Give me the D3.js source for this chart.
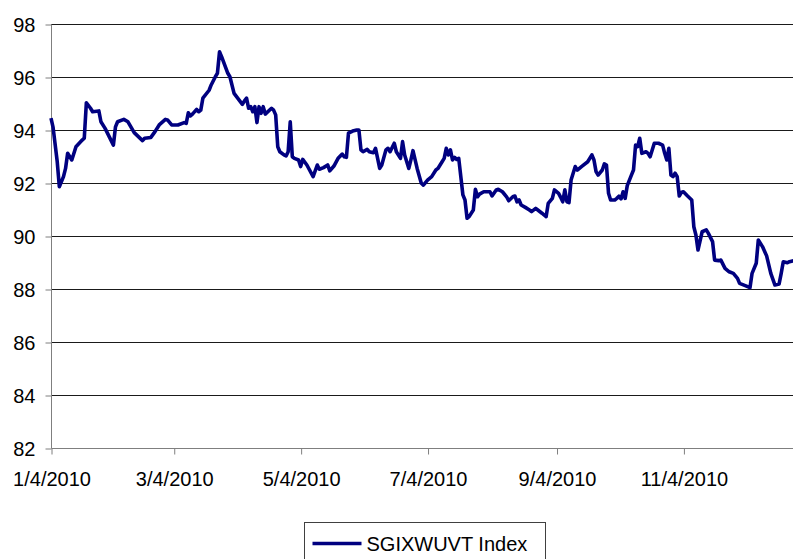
<!DOCTYPE html>
<html>
<head>
<meta charset="utf-8">
<script src="https://cdn.jsdelivr.net/npm/d3@7"></script>
<style>
    body { margin: 0; background: #fff; }
    svg { display: block; font-family: "Liberation Sans", Arial, sans-serif; }
</style>
</head>
<body>
<svg id="chart"></svg>
<script>
// series
const dates = [
    "2010-01-04","2010-01-05","2010-01-07","2010-01-08","2010-01-10","2010-01-11","2010-01-12","2010-01-14",
    "2010-01-16","2010-01-19","2010-01-20","2010-01-21","2010-01-23","2010-01-24","2010-01-27","2010-01-28",
    "2010-01-30","2010-02-03","2010-02-04","2010-02-05","2010-02-08","2010-02-10","2010-02-13","2010-02-17",
    "2010-02-18","2010-02-21","2010-02-23","2010-02-25","2010-02-28","2010-03-01","2010-03-03","2010-03-06",
    "2010-03-09","2010-03-10","2010-03-11","2010-03-12","2010-03-13","2010-03-15","2010-03-16","2010-03-17",
    "2010-03-18","2010-03-21","2010-03-22","2010-03-24","2010-03-25","2010-03-26","2010-03-27","2010-03-30",
    "2010-03-31","2010-04-02","2010-04-06","2010-04-07","2010-04-08","2010-04-09","2010-04-10","2010-04-11",
    "2010-04-12","2010-04-13","2010-04-14","2010-04-15","2010-04-16","2010-04-17","2010-04-20","2010-04-21",
    "2010-04-22","2010-04-23","2010-04-24","2010-04-26","2010-04-27","2010-04-28","2010-04-29","2010-04-30",
    "2010-05-01","2010-05-03","2010-05-04","2010-05-05","2010-05-07","2010-05-10","2010-05-12","2010-05-13",
    "2010-05-15","2010-05-17","2010-05-18","2010-05-20","2010-05-22","2010-05-24","2010-05-25","2010-05-26",
    "2010-05-27","2010-05-29","2010-05-31","2010-06-01","2010-06-02","2010-06-03","2010-06-05","2010-06-06",
    "2010-06-08","2010-06-09","2010-06-11","2010-06-12","2010-06-14","2010-06-15","2010-06-16","2010-06-18",
    "2010-06-19","2010-06-21","2010-06-22","2010-06-23","2010-06-25","2010-06-26","2010-06-27","2010-06-29",
    "2010-07-01","2010-07-02","2010-07-04","2010-07-06","2010-07-08","2010-07-09","2010-07-11","2010-07-12",
    "2010-07-13","2010-07-14","2010-07-15","2010-07-16","2010-07-17","2010-07-18","2010-07-19","2010-07-21",
    "2010-07-22","2010-07-23","2010-07-24","2010-07-26","2010-07-27","2010-07-28","2010-07-29","2010-07-31",
    "2010-08-03","2010-08-04","2010-08-06","2010-08-07","2010-08-09","2010-08-11","2010-08-12","2010-08-14",
    "2010-08-15","2010-08-16","2010-08-17","2010-08-18","2010-08-20","2010-08-22","2010-08-23","2010-08-25",
    "2010-08-26","2010-08-28","2010-08-30","2010-08-31","2010-09-02","2010-09-03","2010-09-05","2010-09-06",
    "2010-09-07","2010-09-08","2010-09-09","2010-09-10","2010-09-11","2010-09-13","2010-09-14","2010-09-16",
    "2010-09-19","2010-09-21","2010-09-22","2010-09-23","2010-09-24","2010-09-26","2010-09-27","2010-09-28",
    "2010-09-29","2010-09-30","2010-10-02","2010-10-03","2010-10-04","2010-10-05","2010-10-06","2010-10-07",
    "2010-10-08","2010-10-10","2010-10-11","2010-10-12","2010-10-13","2010-10-14","2010-10-15","2010-10-17",
    "2010-10-18","2010-10-19","2010-10-21","2010-10-23","2010-10-25","2010-10-26","2010-10-27","2010-10-28",
    "2010-10-29","2010-10-30","2010-10-31","2010-11-01","2010-11-02","2010-11-03","2010-11-04","2010-11-06",
    "2010-11-08","2010-11-09","2010-11-10","2010-11-11","2010-11-13","2010-11-15","2010-11-16","2010-11-18",
    "2010-11-19","2010-11-21","2010-11-22","2010-11-24","2010-11-26","2010-11-28","2010-11-30","2010-12-01",
    "2010-12-04","2010-12-06","2010-12-07","2010-12-09","2010-12-10","2010-12-12","2010-12-14","2010-12-16",
    "2010-12-18","2010-12-20","2010-12-21","2010-12-22","2010-12-24","2010-12-25","2010-12-27","2010-12-30"
]
const indexValues = [
    94.45, 94.10, 92.80, 91.86, 92.24, 92.55, 93.12, 92.87,
    93.37, 93.62, 93.69, 95.03, 94.82, 94.69, 94.72, 94.31,
    94.06, 93.43, 94.12, 94.31, 94.40, 94.31, 93.90, 93.60,
    93.69, 93.72, 93.94, 94.19, 94.40, 94.38, 94.19, 94.19,
    94.28, 94.25, 94.65, 94.53, 94.60, 94.78, 94.69, 94.75,
    95.20, 95.50, 95.70, 96.01, 96.14, 96.95, 96.77, 96.14,
    96.01, 95.38, 94.97, 95.10, 95.20, 94.82, 94.88, 94.69,
    94.88, 94.28, 94.88, 94.63, 94.88, 94.60, 94.82, 94.75,
    94.57, 93.37, 93.18, 93.06, 93.02, 93.18, 94.31, 92.99,
    92.93, 92.87, 92.62, 92.89, 92.68, 92.24, 92.68, 92.52,
    92.58, 92.68, 92.46, 92.64, 92.93, 93.09, 92.99, 92.97,
    93.88, 93.96, 94.00, 94.00, 93.25, 93.18, 93.27, 93.18,
    93.14, 93.31, 92.55, 92.68, 93.25, 93.31, 93.18, 93.50,
    93.18, 92.93, 93.56, 93.06, 92.55, 92.87, 93.22, 92.55,
    91.99, 91.92, 92.11, 92.24, 92.49, 92.55, 92.80, 92.93,
    93.31, 93.06, 93.25, 92.87, 92.97, 92.89, 92.93, 91.55,
    91.36, 90.67, 90.73, 90.98, 91.76, 91.48, 91.58, 91.67,
    91.67, 91.51, 91.74, 91.76, 91.67, 91.48, 91.33, 91.48,
    91.51, 91.29, 91.36, 91.17, 91.08, 90.98, 90.92, 91.04,
    90.98, 90.86, 90.73, 91.23, 91.42, 91.74, 91.61, 91.46,
    91.29, 91.74, 91.29, 91.26, 92.11, 92.62, 92.49, 92.62,
    92.80, 93.06, 92.87, 92.43, 92.30, 92.49, 92.72, 92.68,
    91.61, 91.36, 91.36, 91.42, 91.50, 91.40, 91.67, 91.42,
    91.90, 92.30, 92.49, 93.43, 93.37, 93.69, 93.12, 93.18,
    93.12, 92.99, 93.50, 93.50, 93.43, 93.12, 92.87, 93.31,
    92.30, 92.24, 92.37, 92.24, 91.51, 91.64, 91.67, 91.51,
    91.36, 90.35, 90.04, 89.47, 90.16, 90.23, 90.10, 89.79,
    89.09, 89.07, 89.09, 88.78, 88.65, 88.59, 88.40, 88.21,
    88.12, 88.05, 88.59, 88.97, 89.85, 89.60, 89.25, 88.59,
    88.15, 88.19, 88.59, 89.03, 88.99, 89.03, 89.07, 89.05
]
const seriesName = "SGIXWUVT Index"
const xTickDates = ["2010-01-04", "2010-03-04", "2010-05-04", "2010-07-04", "2010-09-04", "2010-11-04"]
const yTicks = [82, 84, 86, 88, 90, 92, 94, 96, 98]
const xDomain = ["2010-01-04", "2010-12-31"]

const width = 793, height = 559
const plotLeft = 51, plotTop = 24, plotBottom = 448
const lineColor = "#000080"

const parse = d3.timeParse("%Y-%m-%d")
const data = dates.map((d, i) => ({date: parse(d), value: indexValues[i]}))

let svg = d3.select("#chart")
    .attr("width", width)
    .attr("height", height)

let scale_x = d3.scaleTime()
    .domain(xDomain.map(parse))
    .range([plotLeft, 802])

let scale_y = d3.scaleLinear()
    .domain([82, 98])
    .range([plotBottom, plotTop])

// horizontal gridlines
svg.append("g")
    .selectAll("line")
    .data(yTicks.slice(1))
    .join("line")
    .attr("x1", plotLeft)
    .attr("x2", width)
    .attr("y1", d => scale_y(d) + 0.5)
    .attr("y2", d => scale_y(d) + 0.5)
    .attr("stroke", "#1a1a1a")
    .attr("stroke-width", 1)

// y axis
let yAxis = svg.append("g")
    .attr("transform", "translate(" + (plotLeft + 0.5) + ",0.5)")
    .call(d3.axisLeft(scale_y).tickValues(yTicks).tickSize(6).tickPadding(10).tickFormat(d3.format("d")))
yAxis.select(".domain").attr("stroke", "#7f7f7f").attr("d", "M0," + plotTop + "V" + plotBottom)
yAxis.selectAll(".tick line").attr("stroke", "#7f7f7f")
yAxis.selectAll(".tick text")
    .attr("fill", "#000")
    .style("font-size", "20px")
    .attr("dy", "0.36em")

// x axis
let xAxis = svg.append("g")
    .attr("transform", "translate(0.5," + (plotBottom + 0.5) + ")")
    .call(d3.axisBottom(scale_x)
        .tickValues(xTickDates.map(parse))
        .tickSize(6)
        .tickPadding(17)
        .tickFormat(d3.timeFormat("%-m/%-d/%Y")))
xAxis.select(".domain").attr("stroke", "#7f7f7f").attr("d", "M" + plotLeft + ",0H" + width)
xAxis.selectAll(".tick line").attr("stroke", "#7f7f7f")
xAxis.selectAll(".tick text")
    .attr("fill", "#000")
    .style("font-size", "20px")

// the index line
let linePath = d3.line()
    .x(d => scale_x(d.date))
    .y(d => scale_y(d.value))

svg.append("path")
    .attr("fill", "none")
    .attr("stroke", lineColor)
    .attr("stroke-width", 3.6)
    .attr("stroke-linejoin", "round")
    .attr("d", linePath(data))

// legend
let legend = svg.append("g").attr("transform", "translate(304.5,522.5)")
legend.append("rect")
    .attr("width", 241)
    .attr("height", 45)
    .attr("fill", "#fff")
    .attr("stroke", "#404040")
legend.append("line")
    .attr("x1", 8).attr("x2", 57)
    .attr("y1", 21).attr("y2", 21)
    .attr("stroke", lineColor)
    .attr("stroke-width", 3.6)
legend.append("text")
    .attr("x", 62)
    .attr("y", 28)
    .style("font-size", "20px")
    .text(seriesName)
</script>
</body>
</html>
